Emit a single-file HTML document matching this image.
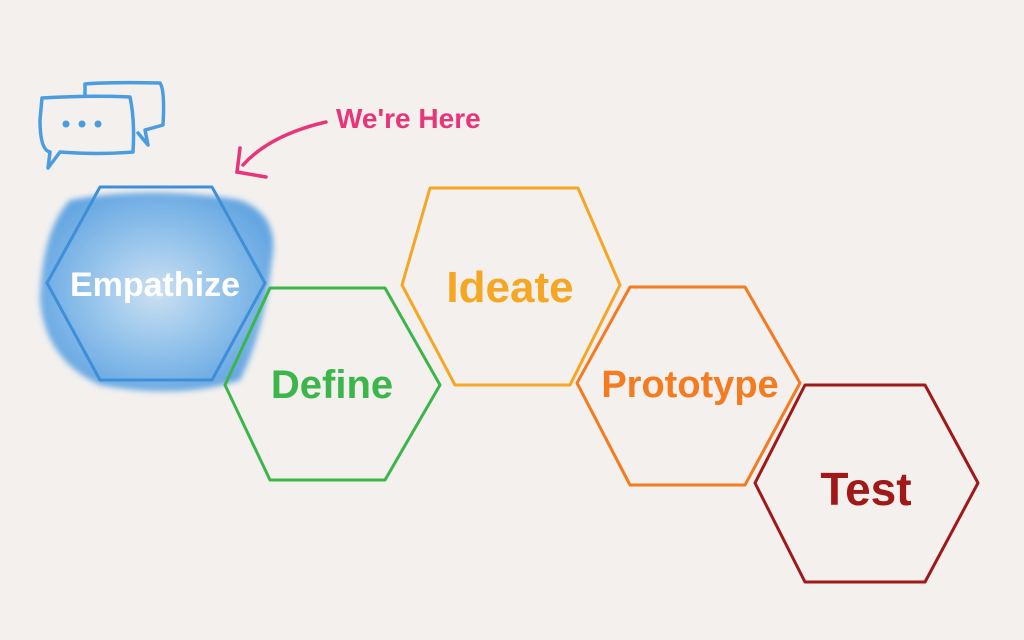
<!DOCTYPE html>
<html><head><meta charset="utf-8"><style>
html,body{margin:0;padding:0;background:#f3f0ee;}
svg{display:block}
text{font-family:"Liberation Sans",sans-serif;font-weight:bold;}
</style></head><body>
<svg width="1024" height="640" viewBox="0 0 1024 640">
<rect width="1024" height="640" fill="#f3f0ee"/>
<defs>
<radialGradient id="bg" cx="50%" cy="50%" r="55%">
<stop offset="0" stop-color="#c6def3"/><stop offset="0.5" stop-color="#86bdeb"/><stop offset="1" stop-color="#4d9ae0"/>
</radialGradient>
<filter id="bl"><feGaussianBlur stdDeviation="3"/></filter>
</defs>
<path d="M70,200 Q150,185 240,200 Q280,215 272,260 Q265,330 240,380 Q180,400 100,385 Q45,360 40,300 Q42,230 70,200Z" fill="url(#bg)" opacity="0.85" filter="url(#bl)"/>
<g fill="none" stroke="#4a9de0" stroke-width="3.5" stroke-linejoin="round" stroke-linecap="round">
<path d="M85,95 L85,84 Q110,82 160,83 Q165,90 163,125 L145,130 L148,145 L138,133"/>
<path d="M42,98 Q90,95 130,97 Q135,120 133,152 Q100,155 60,152 L48,168 L50,152 Q40,150 40,120 Z"/>
</g>
<g fill="#4a9de0"><circle cx="66" cy="124" r="3.5"/><circle cx="82" cy="124" r="3.5"/><circle cx="98" cy="124" r="3.5"/></g>
<g fill="none" stroke="#e8357a" stroke-width="3.5" stroke-linecap="round">
<path d="M326,122 Q270,135 243,165"/>
<path d="M240,148 L237,172 L266,177"/>
</g>
<text x="336" y="128" font-size="28" fill="#e8357a" font-weight="normal">We're Here</text>
<g fill="none" stroke-width="3" stroke-linejoin="round">
<polygon points="100,187 212,187 265,283 212,380 100,380 47,283" stroke="#3f8fd8"/>
<polygon points="270,288 385,288 440,385 385,480 270,480 225,385" stroke="#3cb54a"/>
<polygon points="430,188 578,188 620,285 570,385 455,385 402,285" stroke="#f5a623"/>
<polygon points="630,287 745,287 800,383 745,485 630,485 577,383" stroke="#f47b20"/>
<polygon points="805,385 925,385 978,483 925,582 805,582 755,483" stroke="#a01818"/>
</g>
<text x="155" y="296" font-size="34" fill="#fff" text-anchor="middle">Empathize</text>
<text x="332" y="398" font-size="40" fill="#3cb54a" text-anchor="middle">Define</text>
<text x="510" y="302" font-size="44" fill="#f5a623" text-anchor="middle">Ideate</text>
<text x="690" y="397" font-size="38" fill="#f47b20" text-anchor="middle">Prototype</text>
<text x="866" y="505" font-size="46" fill="#a01818" text-anchor="middle">Test</text>
</svg>
</body></html>
